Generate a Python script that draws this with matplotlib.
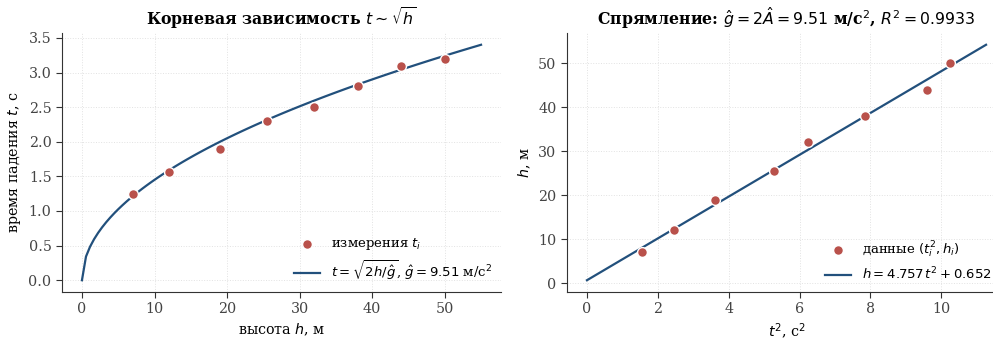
import numpy as np
import matplotlib
matplotlib.use("Agg")
import matplotlib.pyplot as plt

plt.rcParams["font.family"] = "DejaVu Serif"
plt.rcParams["mathtext.fontset"] = "dejavusans"
plt.rcParams["axes.edgecolor"] = "#333333"
plt.rcParams["xtick.color"] = "#333333"
plt.rcParams["ytick.color"] = "#333333"
plt.rcParams["xtick.labelcolor"] = "#444444"
plt.rcParams["ytick.labelcolor"] = "#444444"

# measurements
h = np.array([7, 12, 19, 25.5, 32, 38, 44, 50])
t = np.array([1.25, 1.57, 1.9, 2.3, 2.5, 2.8, 3.1, 3.2])

# straightening fit h = A t^2 + B
A, B = 4.757, 0.652
g_hat = 9.51
r2 = 0.9933

pt_color = "#b9514b"
ln_color = "#22507c"

fig = plt.figure(figsize=(9.93, 3.41), dpi=100)
ax1 = fig.add_axes([62/993, 49/341, 439/993, 259/341])
ax2 = fig.add_axes([567/993, 49/341, 439/993, 259/341])

# left: root dependence
hh = np.linspace(0, 1.1*h.max(), 100)
ax1.scatter(h, t, s=50, color=pt_color, edgecolor="white", linewidth=1, zorder=3,
            label=r"измерения $t_i$")
ax1.plot(hh, np.sqrt(2*hh/g_hat), color=ln_color, lw=1.6, zorder=2,
         label=r"$t=\sqrt{2h/\hat{g}}$, $\hat{g}=9.51$ м/с$^2$")
ax1.set_title(r"Корневая зависимость $t\sim\sqrt{h}$", fontweight="bold", fontsize=11.3)
ax1.set_xlabel(r"высота $h$, м", fontsize=10.3)
ax1.set_ylabel(r"время падения $t$, с", fontsize=10.3)

# right: linearized
x2 = t**2
xx = np.linspace(0, 1.1*x2.max(), 100)
ax2.scatter(x2, h, s=50, color=pt_color, edgecolor="white", linewidth=1, zorder=3,
            label=r"данные $(t_i^2, h_i)$")
ax2.plot(xx, A*xx + B, color=ln_color, lw=1.6, zorder=2,
         label=rf"$h={A:.3f}\,t^2+{B:.3f}$")
ax2.set_title(rf"Спрямление: $\hat{{g}}=2\hat{{A}}={g_hat:.2f}$ м/с$^2$, $R^2={r2:.4f}$",
              fontweight="bold", fontsize=11.3)
ax2.set_xlabel(r"$t^2$, с$^2$", fontsize=10.3)
ax2.set_ylabel(r"$h$, м", fontsize=10.3)
ax2.set_xticks([0, 2, 4, 6, 8, 10])

for ax in (ax1, ax2):
    ax.spines["top"].set_visible(False)
    ax.spines["right"].set_visible(False)
    ax.grid(True, linestyle=":", color="#e2e2e2", linewidth=0.7)
    ax.set_axisbelow(True)
    ax.tick_params(direction="out", length=4, labelsize=10.3)

ax1.legend(loc="lower right", frameon=False, fontsize=9.5, borderaxespad=0.3)
ax2.legend(loc="lower right", frameon=False, fontsize=9.5, borderaxespad=0.3,
           bbox_to_anchor=(1.008, 49/341), bbox_transform=fig.transFigure)

fig.savefig("out.png", dpi=100)
